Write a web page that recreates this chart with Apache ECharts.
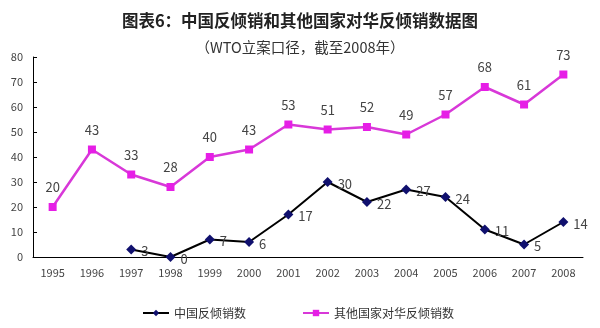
<!DOCTYPE html>
<html><head><meta charset="utf-8">
<script src="https://cdn.jsdelivr.net/npm/echarts@6/dist/echarts.min.js"></script>
<style>html,body{margin:0;padding:0;background:#fff}#c{width:600px;height:328px}</style>
</head><body><div id="c"></div>
<script>
var years = ['1995','1996','1997','1998','1999','2000','2001','2002','2003','2004','2005','2006','2007','2008'];
var chinaCases = [null, null, 3, 0, 7, 6, 17, 30, 22, 27, 24, 11, 5, 14];
var otherCases = [20, 43, 33, 28, 40, 43, 53, 51, 52, 49, 57, 68, 61, 73];
var yTicks = {min: 0, max: 80, interval: 10};
var seriesNames = ['中国反倾销数', '其他国家对华反倾销数'];

var font = "'Noto Sans CJK SC', sans-serif";
var chart = echarts.init(document.getElementById('c'), null, {renderer: 'canvas'});
chart.setOption({
  animation: false,
  backgroundColor: '#fff',
  title: [
    {text: '图表6：中国反倾销和其他国家对华反倾销数据图', left: 'center', top: 7,
     textStyle: {fontFamily: font, fontSize: 16.5, fontWeight: 'bold', color: '#222'}},
    {text: '（WTO立案口径，截至2008年）', left: 'center', top: 35,
     textStyle: {fontFamily: font, fontSize: 14.5, fontWeight: 'normal', color: '#333'}}
  ],
  grid: {left: 33, right: 17, top: 57, bottom: 71},
  legend: {
    bottom: 4, left: 137, itemGap: 56, itemWidth: 26, itemHeight: 8,
    textStyle: {fontFamily: font, fontSize: 12, color: '#333'},
    data: seriesNames
  },
  xAxis: {
    type: 'category', data: years, boundaryGap: true,
    axisLine: {lineStyle: {color: '#000', width: 1}},
    axisTick: {inside: true, length: 4, lineStyle: {color: '#000'}},
    axisLabel: {fontFamily: font, fontSize: 11, color: '#444', margin: 10}
  },
  yAxis: {
    type: 'value', min: yTicks.min, max: yTicks.max, interval: yTicks.interval,
    splitLine: {show: false},
    axisLine: {show: true, lineStyle: {color: '#000', width: 1}},
    axisTick: {show: true, inside: true, length: 4, lineStyle: {color: '#000'}},
    axisLabel: {fontFamily: font, fontSize: 11, color: '#444', margin: 10}
  },
  series: [
    {
      name: seriesNames[0], type: 'line', data: chinaCases,
      symbol: 'diamond', symbolSize: 10,
      itemStyle: {color: '#10106e'},
      lineStyle: {color: '#000', width: 2},
      label: {show: true, position: 'right', distance: 5, offset: [0, 2],
              fontFamily: font, fontSize: 13, color: '#444'}
    },
    {
      name: seriesNames[1], type: 'line', data: otherCases,
      symbol: 'rect', symbolSize: 8,
      itemStyle: {color: '#e61ee6'},
      lineStyle: {color: '#d838d8', width: 2.5},
      label: {show: true, position: 'top', distance: 9,
              fontFamily: font, fontSize: 13, color: '#444'}
    }
  ]
});
</script></body></html>
